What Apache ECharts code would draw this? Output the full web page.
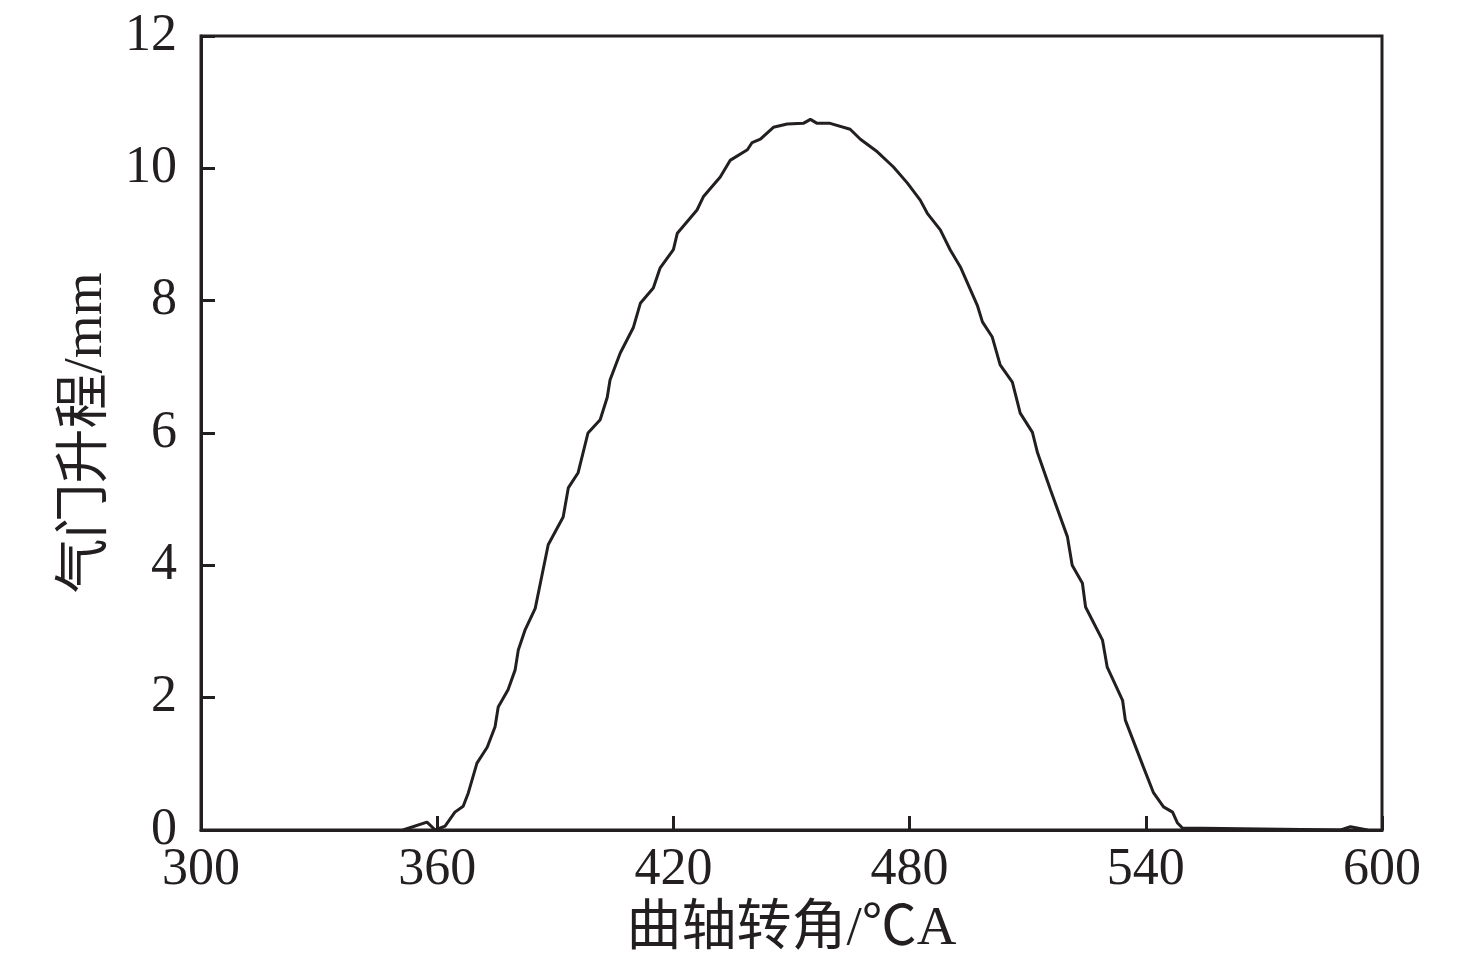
<!DOCTYPE html>
<html>
<head>
<meta charset="utf-8">
<script src="https://cdn.jsdelivr.net/npm/echarts@6/dist/echarts.min.js"></script>
<style>
html,body{margin:0;padding:0;background:#fff;}
#chart{width:1476px;height:977px;}
</style>
</head>
<body>
<div id="chart"></div>
<script>
var crankAngle = [351.3,357.4,359.5,362.0,364.5,366.6,367.9,370.1,372.7,374.7,375.5,378.0,379.8,380.6,382.3,384.9,386.2,388.2,392.0,393.3,395.8,398.3,401.4,403.2,403.9,406.5,409.8,411.6,414.9,416.6,420.0,421.0,426.0,427.6,431.9,434.4,438.8,440.0,442.1,445.4,448.9,453.0,454.8,456.5,459.8,464.9,467.5,471.8,475.9,479.4,482.7,484.5,487.8,490.3,492.9,497.2,498.5,501.0,503.0,506.1,508.1,511.2,512.5,515.8,520.1,521.3,523.9,524.7,529.0,530.2,534.1,534.8,539.4,541.9,544.5,546.8,548.0,549.3,589.5,592.0,596.3];
var valveLift = [0,0.12,0.0,0.06,0.27,0.36,0.56,1.01,1.25,1.56,1.86,2.12,2.42,2.72,3.02,3.35,3.73,4.31,4.73,5.17,5.40,6.00,6.20,6.54,6.80,7.21,7.59,7.96,8.19,8.49,8.77,9.02,9.37,9.57,9.87,10.12,10.28,10.39,10.44,10.62,10.67,10.68,10.74,10.68,10.68,10.59,10.44,10.25,10.02,9.78,9.52,9.32,9.07,8.77,8.51,7.93,7.68,7.45,7.03,6.77,6.30,6.01,5.70,5.14,4.43,4.00,3.73,3.37,2.87,2.46,1.96,1.66,0.95,0.57,0.35,0.27,0.11,0.03,0.0,0.05,0];
var xTitle = '曲轴转角/℃A';
var yTitle = '气门升程/mm';

var seriesData = crankAngle.map(function(x,i){return [x, valveLift[i]];});
var ink = '#231f20';
var fontFam = '"Liberation Serif","Times New Roman","Noto Sans CJK SC",serif';

var chart = echarts.init(document.getElementById('chart'));
chart.setOption({
  backgroundColor:'#fff',
  animation:false,
  grid:{left:201,right:94,top:36,bottom:147,show:true,borderColor:ink,borderWidth:3,backgroundColor:'transparent'},
  xAxis:{
    type:'value',min:300,max:600,interval:60,
    name:xTitle,nameLocation:'middle',nameGap:72,
    nameTextStyle:{fontFamily:fontFam,fontSize:55,color:ink},
    axisLine:{show:true,lineStyle:{color:ink,width:3}},
    axisTick:{show:true,inside:true,length:14,lineStyle:{color:ink,width:3}},
    axisLabel:{fontFamily:fontFam,fontSize:52,color:ink,margin:14},
    splitLine:{show:false}
  },
  yAxis:{
    type:'value',min:0,max:12,interval:2,
    name:yTitle,nameLocation:'middle',nameGap:84,nameRotate:90,
    nameTextStyle:{fontFamily:fontFam,fontSize:55,color:ink},
    axisLine:{show:true,lineStyle:{color:ink,width:3}},
    axisTick:{show:true,inside:true,length:14,lineStyle:{color:ink,width:3}},
    axisLabel:{fontFamily:fontFam,fontSize:52,color:ink,margin:24},
    splitLine:{show:false}
  },
  series:[{
    type:'line',
    data:seriesData,
    showSymbol:false,
    smooth:false,
    lineStyle:{color:ink,width:3},
    clip:true
  }]
});
</script>
</body>
</html>
